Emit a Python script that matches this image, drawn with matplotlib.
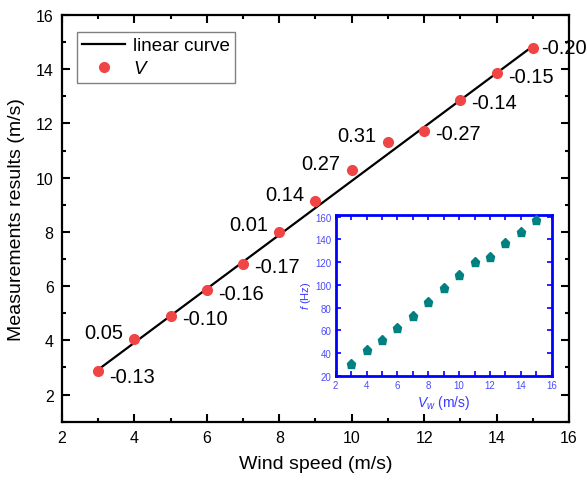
import matplotlib
matplotlib.use('Agg')
import matplotlib.pyplot as plt
import numpy as np

plt.rcParams['font.family'] = ['Liberation Sans', 'DejaVu Sans']
plt.rcParams['mathtext.fontset'] = 'custom'
plt.rcParams['mathtext.rm'] = 'Liberation Sans'
plt.rcParams['mathtext.it'] = 'Liberation Sans:italic'

# main data
wind = [3, 4, 5, 6, 7, 8, 9, 10, 11, 12, 13, 14, 15]
v_meas = [2.87, 4.05, 4.90, 5.84, 6.83, 8.01, 9.14, 10.27, 11.31, 11.73, 12.86, 13.85, 14.80]
dev_labels = ['-0.13', '0.05', '-0.10', '-0.16', '-0.17', '0.01', '0.14',
              '0.27', '0.31', '-0.27', '-0.14', '-0.15', '-0.20']
fit_x = [3, 15]
fit_y = [2.92, 14.85]

# inset data
vw = [3, 4, 5, 6, 7, 8, 9, 10, 11, 12, 13, 14, 15]
freq = [30.3, 42.6, 51.7, 61.7, 72.2, 84.5, 96.9, 108.6, 119.8, 124.2, 136.5, 146.7, 156.8]

fig = plt.figure(figsize=(5.87, 4.85), dpi=100)
ax = fig.add_axes([0.1056, 0.1285, 0.8637, 0.8385])

ax.plot(fit_x, fit_y, color='black', lw=1.6, label='linear curve', zorder=2)
ax.plot(wind, v_meas, 'o', color='#f04545', ms=7, label='$V$', zorder=3)

for x, y, t in zip(wind, v_meas, dev_labels):
    if t.startswith('-'):
        off, ha = (8, -2), 'left'
    else:
        off, ha = (-8, 5), 'right'
    if t == '-0.13':
        off = (8, -4)
    if t == '-0.20':
        off = (6, 0)
    ax.annotate(t, (x, y), xytext=off, textcoords='offset points',
                ha=ha, va='center', fontsize=14.5, annotation_clip=False)

ax.set_xlim(2, 16)
ax.set_ylim(1, 16)
ax.set_xticks(np.arange(2, 17, 2))
ax.set_yticks(np.arange(2, 17, 2))
ax.set_xticks(np.arange(3, 16, 2), minor=True)
ax.set_yticks(np.arange(1, 16, 2), minor=True)
ax.tick_params(which='both', direction='in', top=True, right=True, width=1.5,
               labelsize=11.5, pad=6)
ax.tick_params(which='major', length=5.5)
ax.tick_params(which='minor', length=3)
for s in ax.spines.values():
    s.set_linewidth(1.6)

ax.set_xlabel('Wind speed (m/s)', fontsize=14, labelpad=7)
ax.set_ylabel('Measurements results (m/s)', fontsize=14, labelpad=8)

leg = ax.legend(loc='upper left', bbox_to_anchor=(0.029, 0.959), borderaxespad=0,
                fancybox=False, framealpha=1, edgecolor='#808080', fontsize=13.5,
                handlelength=2.3, handletextpad=0.4, borderpad=0.3, labelspacing=0.3)
leg.get_frame().set_linewidth(1.0)

# inset
ins = fig.add_axes([0.5719, 0.2233, 0.368, 0.332])
ins.plot(vw, freq, 'p', color='#008080', ms=6.5, zorder=3)
ins.set_xlim(2, 16)
ins.set_ylim(20, 161.8)
ins.set_xticks(np.arange(2, 17, 2))
ins.set_yticks(np.arange(20, 161, 20))
ins.set_xticks(np.arange(3, 16, 2), minor=True)
ins.tick_params(which='both', direction='in', top=True, right=True, width=1.2,
                labelsize=7, colors='#0000ff', labelcolor='#4a4aff', pad=3)
ins.tick_params(which='major', length=3.5)
ins.tick_params(which='minor', length=3.5)
for s in ins.spines.values():
    s.set_linewidth(2)
    s.set_color('#0000ff')
ins.set_xlabel('$V_w$ (m/s)', fontsize=10, color='#3a3aff', labelpad=2)
ins.set_ylabel('$f$ (Hz)', fontsize=8, color='#3a3aff', labelpad=2)

fig.savefig('out.png', dpi=100)
